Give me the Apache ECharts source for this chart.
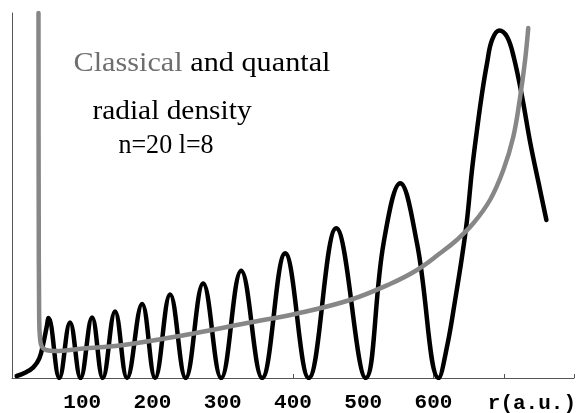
<!DOCTYPE html>
<html>
<head>
<meta charset="utf-8">
<style>html,body{margin:0;padding:0;background:#fff}#c{width:580px;height:413px}</style>
<script src="https://cdn.jsdelivr.net/npm/echarts@6/dist/echarts.min.js"></script>
</head>
<body>
<div id="c"></div>
<script>
// r in atomic units, density normalised so the largest quantal peak = 1
const quantalR = [6.7, 18.5, 30.3, 38.9, 44.6, 49.4, 52.0, 67.4, 82.6, 97.6, 114.0, 129.2, 146.7, 163.8, 185.2, 203.7, 225.1, 247.2, 272.1, 297.7, 326.2, 356.1, 388.9, 422.4, 461.5, 503.6, 528.9, 552.7, 576.5, 607.5, 619.7, 630.8, 640.6, 647.7, 654.8, 661.9, 669.1, 676.2, 683.3, 693.7, 704.7, 714.1, 726.1, 737.9, 749.7, 760.7];
const quantalP = [0.0058, 0.0152, 0.0308, 0.0567, 0.0998, 0.1476, 0.1726, 0, 0.1597, 0, 0.1741, 0, 0.1913, 0, 0.2129, 0, 0.2402, 0, 0.2719, 0, 0.3087, 0, 0.3587, 0, 0.4307, 0, 0.3875, 0.5601, 0.3875, 0, 0.0949, 0.2244, 0.3490, 0.4545, 0.5984, 0.7135, 0.8190, 0.9054, 0.9724, 1.0, 0.9816, 0.9241, 0.8090, 0.6749, 0.5600, 0.4545];
const classicalR = [37.7, 38.0, 38.7, 39.9, 42.3, 48.4, 61.3, 101.1, 153.8, 246.3, 334.8, 406.0, 481.1, 538.1, 576.5, 609.3, 633.1, 656.7, 680.4, 699.4, 713.6, 723.1, 730.2, 734.9];
const classicalP = [1.05, 0.512, 0.167, 0.115, 0.0906, 0.0806, 0.0777, 0.0849, 0.0935, 0.1237, 0.1582, 0.1856, 0.2244, 0.2704, 0.3107, 0.3587, 0.3970, 0.4450, 0.5121, 0.5984, 0.6942, 0.8055, 0.9111, 1.0069];
const tickLabels = [100, 200, 300, 400, 500, 600];
const axisTitle = 'r(a.u.)';
const titleLines = ['{g|Classical} and quantal', 'radial density', 'n=20 l=8'];

const zip = (a, b) => a.map((v, i) => [v, b[i]]);
const chart = echarts.init(document.getElementById('c'), null, {renderer: 'canvas'});
const serif = 'Liberation Serif';
const mono = 'Liberation Mono';
const sfont = '28px "' + serif + '"';
chart.setOption({
  animation: false,
  backgroundColor: '#fff',
  grid: {left: 12, right: 6, top: 13, bottom: 35},
  xAxis: {
    type: 'value', min: 0, max: 800, interval: 100,
    axisLine: {show: true, lineStyle: {color: '#555', width: 1}},
    axisTick: {show: true, inside: true, length: 4, lineStyle: {color: '#555'}},
    splitLine: {show: false},
    axisLabel: {
      margin: 14, color: '#000', fontFamily: mono, fontWeight: 'bold', fontSize: 21,
      formatter: v => tickLabels.indexOf(v) >= 0 ? String(v) : ''
    }
  },
  yAxis: {
    type: 'value', min: 0, max: 1.05,
    axisLine: {show: true, lineStyle: {color: '#555', width: 1}},
    axisTick: {show: false}, axisLabel: {show: false}, splitLine: {show: false}
  },
  series: [
    {type: 'line', data: zip(quantalR, quantalP), smooth: 0.4, showSymbol: false,
     lineStyle: {color: '#000', width: 4.5, cap: 'round', join: 'round'}},
    {type: 'line', data: zip(classicalR, classicalP), smooth: 0.4, showSymbol: false,
     lineStyle: {color: '#878787', width: 4.5, cap: 'round', join: 'round'}}
  ],
  graphic: [
    {type: 'text', x: 202, y: 64, scaleX: 1.08, style: {text: titleLines[0], align: 'center', verticalAlign: 'middle',
      font: sfont, fill: '#000', rich: {g: {fill: '#6e6e6e', fontSize: 28, fontFamily: serif}}}},
    {type: 'text', x: 172, y: 112, scaleX: 1.05, style: {text: titleLines[1], align: 'center', verticalAlign: 'middle',
      font: sfont, fill: '#000'}},
    {type: 'text', x: 166, y: 146, scaleX: 0.93, style: {text: titleLines[2], align: 'center', verticalAlign: 'middle',
      font: sfont, fill: '#000'}},
    {type: 'text', x: 576, y: 404, style: {text: axisTitle, align: 'right', verticalAlign: 'middle',
      font: 'bold 21px "' + mono + '"', fill: '#000'}}
  ]
});
</script>
</body>
</html>
